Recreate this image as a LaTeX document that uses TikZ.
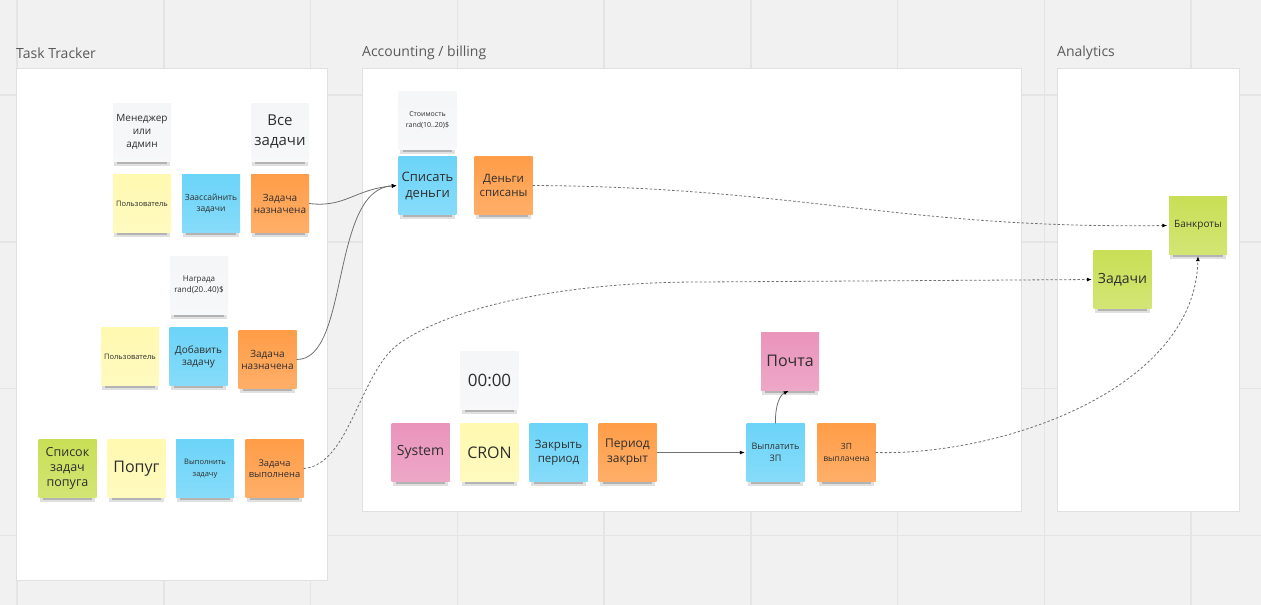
\documentclass[tikz,border=0pt]{standalone}
\usepackage{fontspec}
\setmainfont{Open Sans}
\usetikzlibrary{shadows,arrows.meta}
\definecolor{bgc}{HTML}{F1F1F1}
\definecolor{gridc}{HTML}{E4E4E4}
\definecolor{framec}{HTML}{E0E0E0}
\definecolor{titlec}{HTML}{5A5A5A}
\definecolor{txtc}{HTML}{2E2E2E}
\definecolor{connc}{HTML}{707070}
\definecolor{nyellow}{HTML}{FFF9B1}
\definecolor{nblue}{HTML}{6CD4F8}
\definecolor{norange}{HTML}{FF9D48}
\definecolor{ngreen}{HTML}{C9DF56}
\definecolor{npink}{HTML}{EA94BB}
\definecolor{ngrey}{HTML}{F5F6F8}
\newcommand\notefs[2]{\fontsize{#1}{#2}\selectfont}
\tikzset{
  note/.style={minimum width=58pt, minimum height=58pt, inner sep=1pt, align=center,
    text=txtc, top color=#1, bottom color=#1!82!white,
    general shadow={fill=black,opacity=.12,shadow scale=.96,shadow yshift=-6pt},
    general shadow={fill=black,opacity=.2,shadow scale=.86,shadow yshift=-8pt},
    general shadow={fill=black,opacity=.3,shadow scale=.74,shadow yshift=-10pt}},
  frame/.style={draw=framec, fill=white, line width=0.8pt},
  title/.style={anchor=west, text=titlec, font=\notefs{14}{16}, inner sep=0pt},
  conn/.style={draw=connc, line width=0.8pt, -{Latex[length=5pt,width=4pt,black]}, shorten >=1.5pt},
  dconn/.style={conn, dash pattern=on 2.5pt off 2pt}
}
\begin{document}
\begin{tikzpicture}[x=1pt,y=-1pt]
\useasboundingbox (0,0) rectangle (1261,605);
\fill[bgc] (0,0) rectangle (1261,605);
% grid
\foreach \gx in {17,163.75,310.5,457.25,604,750.75,897.5,1044.25,1191}
  \draw[gridc, line width=1.5pt] (\gx,0) -- (\gx,605);
\foreach \gy in {95,241.75,388.5,535.25}
  \draw[gridc, line width=1.5pt] (0,\gy) -- (1261,\gy);
% frames
\draw[frame] (16,68) rectangle (327,580);
\draw[frame] (362,68) rectangle (1021,511);
\draw[frame] (1057,68) rectangle (1239,511);
\node[title] (t1) at (16,53) {Task Tracker};
\node[title] (t2) at (362,53) {Accounting / billing};
\node[title] (t3) at (1057,53) {Analytics};
% Task Tracker
\node[note=ngrey, font=\notefs{10}{13}] (mgr) at (142,132) {Менеджер\\или\\админ};
\node[note=ngrey, font=\notefs{15}{20}] (all) at (280,132) {Все\\задачи};
\node[note=nyellow, font=\notefs{7.5}{10}] (u1) at (142,203.5) {Пользователь};
\node[note=nblue, font=\notefs{8.5}{10.5}] (assign) at (211,203.5) {Заассайнить\\задачи};
\node[note=norange, font=\notefs{10}{12}] (ta1) at (280,203.5) {Задача\\назначена};
\node[note=ngrey, font=\notefs{8}{11}] (reward) at (199,285) {Награда\\rand(20..40)\$};
\node[note=nyellow, font=\notefs{7.5}{10}] (u2) at (130,356.5) {Пользователь};
\node[note=nblue, font=\notefs{10}{12}] (add) at (198.5,356.5) {Добавить\\задачу};
\node[note=norange, font=\notefs{10}{12}] (ta2) at (267.5,359.5) {Задача\\назначена};
\node[note=ngreen, font=\notefs{12.5}{15}] (list) at (67.5,468.5) {Список\\задач\\попуга};
\node[note=nyellow, font=\notefs{16}{19}] (parrot) at (136.5,468.5) {Попуг};
\node[note=nblue, font=\notefs{7.5}{11.5}] (done) at (205,468.5) {Выполнить\\задачу};
\node[note=norange, font=\notefs{9.3}{11.5}] (tdone) at (274.5,468.5) {Задача\\выполнена};
% Accounting
\node[note=ngrey, font=\notefs{7}{11}] (cost) at (427.5,120.5) {Стоимость\\rand(10..20)\$};
\node[note=nblue, font=\notefs{13}{16}] (charge) at (427.5,185.5) {Списать\\деньги};
\node[note=norange, font=\notefs{11.5}{14.5}] (charged) at (503.5,185.5) {Деньги\\списаны};
\node[note=ngrey, font=\notefs{17}{20}] (clock) at (489.5,380.5) {00:00};
\node[note=npink, font=\notefs{14}{17}] (sys) at (420.5,452.5) {System};
\node[note=nyellow, font=\notefs{16}{19}] (cron) at (489.5,452.5) {CRON};
\node[note=nblue, font=\notefs{11.5}{14}] (close) at (558.5,452.5) {Закрыть\\период};
\node[note=norange, font=\notefs{12}{15}] (closed) at (627.5,452.5) {Период\\закрыт};
\node[note=npink, font=\notefs{16}{19}] (mail) at (790,361) {Почта};
\node[note=nblue, font=\notefs{9}{12}] (pay) at (775.5,452.5) {Выплатить\\ЗП};
\node[note=norange, font=\notefs{8.5}{12}] (paid) at (846.5,452.5) {ЗП\\выплачена};
% Analytics
\node[note=ngreen, font=\notefs{10}{12}] (bank) at (1198,225.5) {Банкроты};
\node[note=ngreen, font=\notefs{14}{17}] (tasks) at (1122.5,279.5) {Задачи};
% connectors
\draw[conn] (ta1.east) .. controls (345,208) and (355,189) .. (charge.west);
\draw[conn] (ta2.east) .. controls (350,360) and (330,189) .. (charge.west);
\draw[dconn] (tdone.east) .. controls (350,465) and (360,370) .. (400,343)
   .. controls (450,308) and (560,282) .. (700,282) -- (tasks.west);
\draw[dconn] (charged.east) .. controls (800,187) and (900,229) .. (bank.west);
\draw[conn] (closed.east) -- (pay.west);
\draw[conn] (pay.north) .. controls (775,405) and (780,395) .. (mail.south);
\draw[dconn] (paid.east) .. controls (1000,456) and (1195,390) .. (bank.south);
\end{tikzpicture}
\end{document}
